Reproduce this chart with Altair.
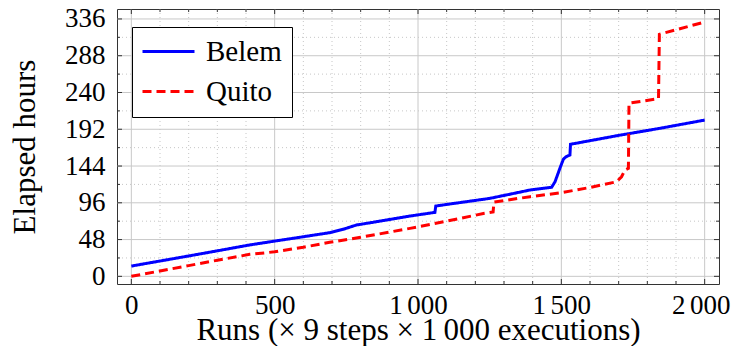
import altair as alt
import pandas as pd

# ---- data ----
series = ["Belem", "Quito"]
belem_x = [0, 100, 200, 300, 413, 500, 600, 692, 740, 785, 850, 972, 1059, 1062,
           1150, 1251, 1391, 1466, 1478, 1495, 1507, 1516, 1530, 1532, 1700, 1845, 2000]
belem_y = [13.4, 20, 26.6, 33.3, 41, 46, 51.7, 57, 61.5, 67, 71, 78.7, 83.5, 91.8,
           96.5, 101.8, 112.7, 116.2, 123.5, 141, 152.8, 156, 158.4, 172.4, 184, 193.3, 204]
quito_x = [0, 100, 200, 300, 413, 500, 600, 692, 800, 972, 1100, 1228, 1262, 1265,
           1391, 1496, 1600, 1693, 1710, 1722, 1734, 1736, 1839, 1842, 2000]
quito_y = [0, 7, 14, 21, 28.7, 32, 38, 44.4, 51, 62.6, 72, 82, 84, 97,
           104, 109, 116, 123.5, 130, 138.8, 141, 226, 232, 316, 332]

x_major = [0, 500, 1000, 1500, 2000]
x_minor = [100, 200, 300, 400, 600, 700, 800, 900, 1100, 1200, 1300, 1400,
           1600, 1700, 1800, 1900]
y_major = [0, 48, 96, 144, 192, 240, 288, 336]
y_minor = [24, 72, 120, 168, 216, 264, 312]

x_title = "Runs (\u00d7 9 steps \u00d7 1\u2009000 executions)"
y_title = "Elapsed hours"

W, H = 602, 275
FONT = "Liberation Serif"
FS = 27   # tick labels
TFS = 31  # axis titles
LFS = 29  # legend

rows = []
for name, xs_, ys_ in [("Belem", belem_x, belem_y), ("Quito", quito_x, quito_y)]:
    for i, (a, b) in enumerate(zip(xs_, ys_)):
        rows.append({"series": name, "run": a, "hours": b, "order": i})
df = pd.DataFrame(rows)

xs = alt.Scale(domain=[-50, 2050], nice=False, zero=False)
ys = alt.Scale(domain=[-10, 349], nice=False, zero=False)

x_axis = alt.Axis(values=x_major, grid=False, ticks=False, domain=False,
                  labelPadding=8, titleX=W / 2, titleY=55, titleBaseline="alphabetic",
                  labelOffset={"condition": {"test": "datum.value === 2000", "value": -4},
                               "value": 0},
                  labelExpr="replace(format(datum.value, ','), ',', '\u2006')")
y_axis = alt.Axis(values=y_major, grid=False, ticks=False, domain=False,
                  labelPadding=12, titleX=-83, titleY=H / 2, titleBaseline="alphabetic")


def X():
    return alt.X("run:Q", scale=xs, title=x_title, axis=x_axis)


def Y():
    return alt.Y("hours:Q", scale=ys, title=y_title, axis=y_axis)


def vrules(vals, color, dash, width=1.0):
    return alt.Chart(pd.DataFrame({"run": vals})).mark_rule(
        color=color, strokeWidth=width, strokeDash=dash
    ).encode(x=X())


def hrules(vals, color, dash, width=1.0):
    return alt.Chart(pd.DataFrame({"hours": vals})).mark_rule(
        color=color, strokeWidth=width, strokeDash=dash
    ).encode(y=Y())


def xticks(vals, y0, y1):
    return alt.Chart(pd.DataFrame({"run": vals})).mark_rule(color="#333333", strokeWidth=1).encode(
        x=X(), y=alt.value(y0), y2=alt.value(y1))


def yticks(vals, x0, x1):
    return alt.Chart(pd.DataFrame({"hours": vals})).mark_rule(color="#333333", strokeWidth=1).encode(
        y=Y(), x=alt.value(x0), x2=alt.value(x1))


grid_minor = vrules(x_minor, "#b8b8b8", [1, 3], 0.8) + hrules(y_minor, "#b8b8b8", [1, 3], 0.8)
grid_major = vrules(x_major, "#c8c8c8", [1, 0], 1.0) + hrules(y_major, "#c8c8c8", [1, 0], 1.0)

ticks = (
    xticks(x_major, H, H - 5) + xticks(x_major, 0, 5)
    + xticks(x_minor, H, H - 3) + xticks(x_minor, 0, 3)
    + yticks(y_major, 0, 5) + yticks(y_major, W, W - 5)
    + yticks(y_minor, 0, 3) + yticks(y_minor, W, W - 3)
)

legend = alt.Legend(
    title=None, orient="none", legendX=15, legendY=18,
    strokeColor="black", fillColor="white", padding=10, cornerRadius=0,
    symbolType="M-2.6,0H2.6", symbolSize=400, symbolStrokeWidth=3,
    symbolOffset=12, labelOffset=23,
    labelFont=FONT, labelFontSize=LFS, labelColor="black",
    rowPadding=10, labelLimit=300,
)

lines = alt.Chart(df).mark_line(strokeWidth=3, strokeJoin="miter", clip=True).encode(
    x=X(),
    y=Y(),
    color=alt.Color("series:N", scale=alt.Scale(domain=series, range=["#0000ff", "#ff0000"]),
                    legend=legend),
    strokeDash=alt.StrokeDash("series:N", scale=alt.Scale(domain=series, range=[[1, 0], [9, 5]]),
                              legend=legend),
    order="order:Q",
)

chart = alt.layer(grid_minor, grid_major, lines, ticks).properties(
    width=W, height=H,
    autosize=alt.AutoSizeParams(type="none"),
    padding={"left": 109, "top": 1, "right": 13, "bottom": 62},
).configure_view(stroke="#333333", strokeWidth=1).configure_axis(
    labelFont=FONT, labelFontSize=FS, labelColor="black",
    titleFont=FONT, titleFontSize=TFS, titleColor="black", titleFontWeight="normal",
)

chart.save("out.html", embed_options={"renderer": "svg", "actions": False})
